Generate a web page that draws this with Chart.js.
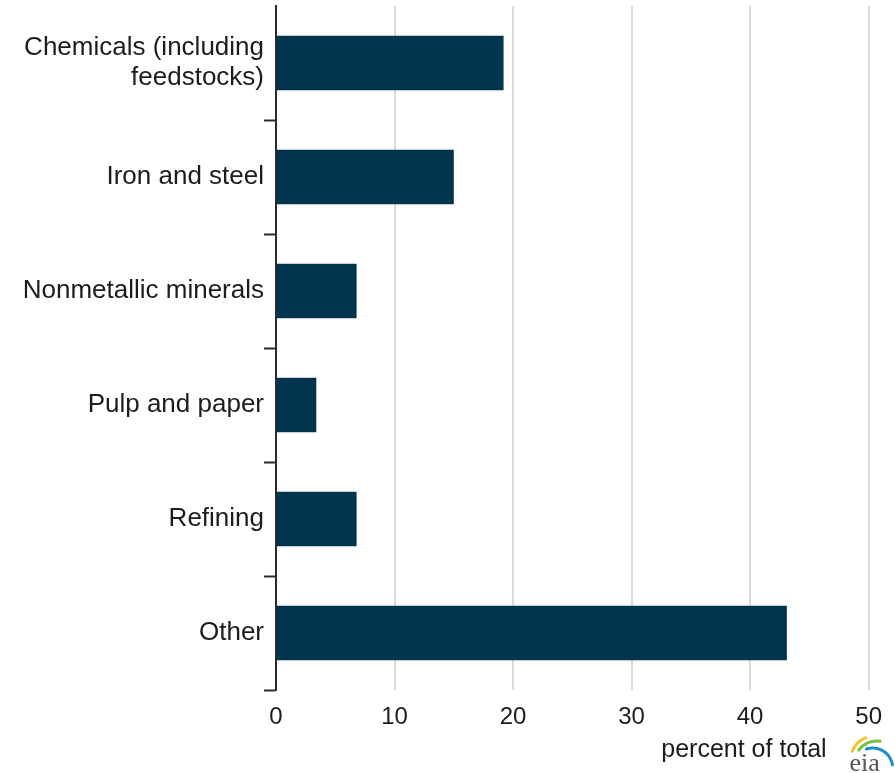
<!DOCTYPE html>
<html>
<head>
<meta charset="utf-8">
<script src="https://cdn.jsdelivr.net/npm/chart.js@4.4.1/dist/chart.umd.min.js"></script>
<style>
  html, body { margin: 0; padding: 0; background: #fff; }
  canvas { display: block; }
</style>
</head>
<body>
<canvas id="industry-share" width="895" height="773"></canvas>
<script>
// Industrial sectors and their share of the total
const sectors = [
    ["Chemicals (including", "feedstocks)"],
    "Iron and steel",
    "Nonmetallic minerals",
    "Pulp and paper",
    "Refining",
    "Other",
];
const shares = [19.2, 15.0, 6.8, 3.4, 6.8, 43.1];
const xTicks = [0, 10, 20, 30, 40, 50];
const unitLabel = "percent of total";

const barColor = "#01354f";
const gridColor = "#dadada";
const axisColor = "#2b2b2b";
const textColor = "#1c1c1c";
const fontFamily = "'Liberation Sans', Arial, sans-serif";

// unit text and a small "eia" mark under the value axis
const footerText = {
    id: "footerText",
    afterDraw(chart) {
        const { ctx, chartArea } = chart;
        ctx.save();
        ctx.fillStyle = textColor;
        ctx.font = "25px " + fontFamily;
        ctx.textAlign = "right";
        ctx.textBaseline = "middle";
        ctx.fillText(unitLabel, chartArea.right - 42, 750);

        // logo
        const lx = chartArea.right - 4;
        ctx.lineWidth = 3;
        ctx.lineCap = "round";
        ctx.strokeStyle = "#f2c230";
        ctx.beginPath();
        ctx.arc(lx + 10, 760, 24, Math.PI * 1.12, Math.PI * 1.38);
        ctx.stroke();
        ctx.strokeStyle = "#7cbf42";
        ctx.beginPath();
        ctx.arc(lx + 12, 763, 22, Math.PI * 1.2, Math.PI * 1.55);
        ctx.stroke();
        ctx.strokeStyle = "#1f8fc7";
        ctx.beginPath();
        ctx.arc(lx + 8, 768, 20, Math.PI * 1.4, Math.PI * 1.95);
        ctx.stroke();
        ctx.fillStyle = "#555";
        ctx.font = "26px 'Liberation Serif', 'DejaVu Serif', serif";
        ctx.textAlign = "center";
        ctx.textBaseline = "alphabetic";
        ctx.fillText("eia", lx, 771);
        ctx.restore();
    },
};

const ctx = document.getElementById("industry-share");

new Chart(ctx, {
    type: "bar",
    data: {
        labels: sectors,
        datasets: [
            {
                label: unitLabel,
                data: shares,
                backgroundColor: barColor,
                borderWidth: 0,
                barPercentage: 0.48,
                categoryPercentage: 1,
            },
        ],
    },
    options: {
        indexAxis: "y",
        responsive: false,
        animation: false,
        layout: {
            padding: { top: 6, right: 25, left: 0, bottom: 0 },
        },
        scales: {
            x: {
                min: 0,
                max: 50,
                afterBuildTicks: (scale) => {
                    scale.ticks = xTicks.map((v) => ({ value: v }));
                },
                afterFit: (scale) => {
                    scale.height = 83;
                },
                grid: {
                    color: (c) => (c.tick && c.tick.value === 0 ? "rgba(0,0,0,0)" : gridColor),
                    lineWidth: 2,
                    drawTicks: false,
                },
                border: { display: false },
                ticks: {
                    color: textColor,
                    padding: 13,
                    font: { family: fontFamily, size: 24 },
                },
            },
            y: {
                afterFit: (scale) => {
                    scale.width = 276;
                    scale.paddingTop = 0;
                    scale.paddingBottom = 0;
                },
                grid: {
                    offset: true,
                    drawOnChartArea: false,
                    drawTicks: true,
                    tickLength: 12,
                    tickColor: (c) => (c.index === 0 ? "rgba(0,0,0,0)" : axisColor),
                    tickWidth: 2,
                },
                border: { display: true, color: axisColor, width: 2 },
                ticks: {
                    color: textColor,
                    padding: 0,
                    font: { family: fontFamily, size: 26, lineHeight: 1.15 },
                },
            },
        },
        plugins: {
            legend: { display: false },
            tooltip: { enabled: false },
        },
    },
    plugins: [footerText],
});
</script>
</body>
</html>
